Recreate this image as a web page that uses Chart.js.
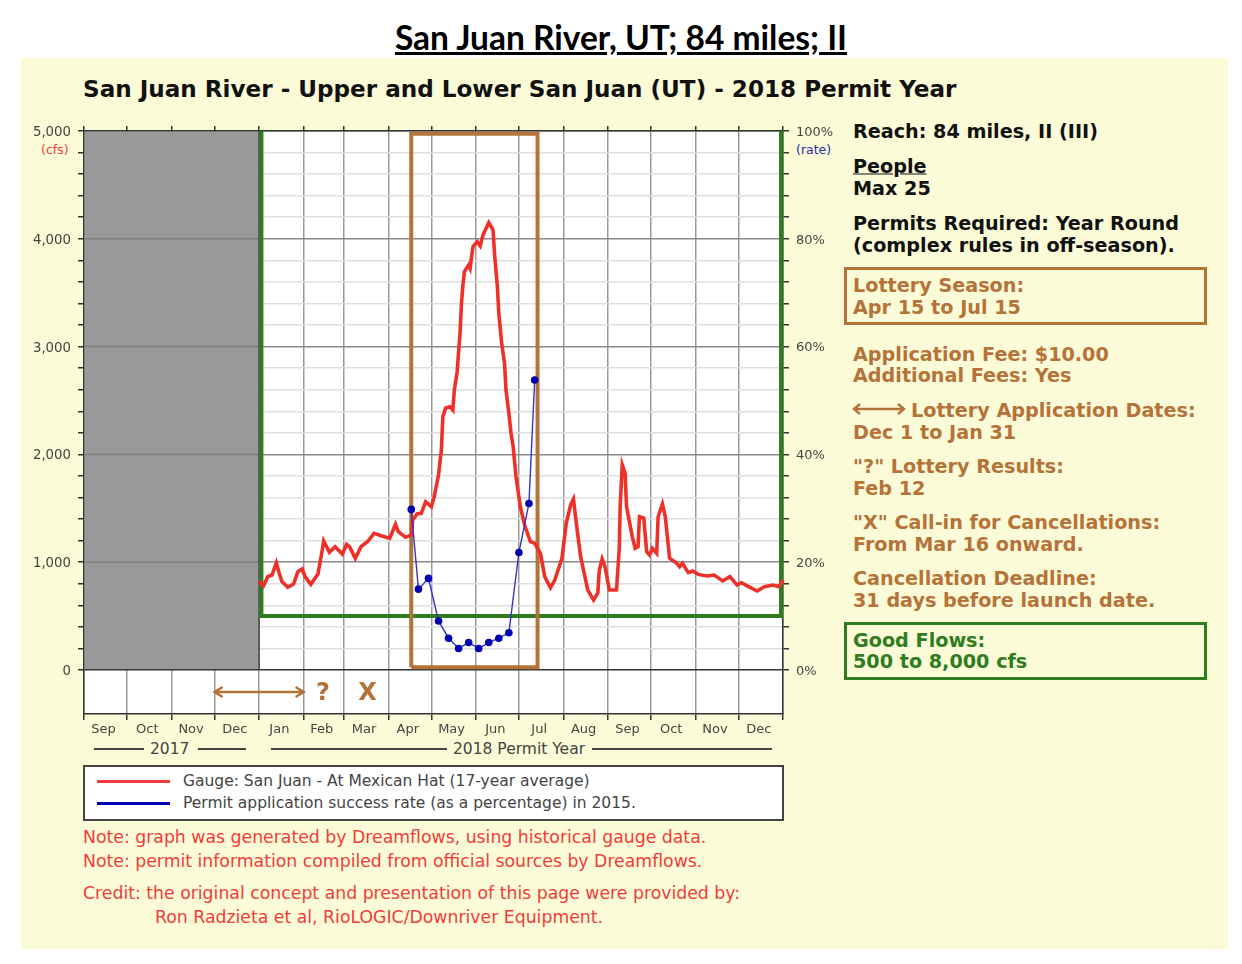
<!DOCTYPE html>
<html>
<head>
<meta charset="utf-8">
<title>San Juan River, UT; 84 miles; II</title>
<script src="https://cdn.jsdelivr.net/npm/chart.js@4"></script>
<style>
  html, body { margin: 0; background: #fff; }
  #page { position: relative; width: 1242px; height: 964px; overflow: hidden; font-family: 'DejaVu Sans', sans-serif; }
  #panel { position: absolute; left: 21px; top: 58px; width: 1207px; height: 891px; background: #fbfbd7; }
  #grafico { position: absolute; left: 0; top: 0; }
  .t { position: absolute; white-space: nowrap; transform: translateY(-50%); }
  .b { font-weight: bold; font-size: 19.2px; color: #111; left: 853px; }
  .m { color: #b5733a; }
  .g { color: #2f7d1f; }
  .n { font-size: 17.3px; color: #f23b3b; left: 83px; }
  .box { position: absolute; left: 844px; width: 357px; height: 52px; border: 3.5px solid; }
  .lin { position: absolute; height: 2px; background: #444; }
  .y { font-size: 15.5px; color: #444; }
</style>
</head>
<body>
<div id="page">
  <div id="panel"></div>
  <div class="t" style="left:0;width:1242px;text-align:center;top:37px;font:bold 33.5px Lato,sans-serif;color:#000;text-decoration:underline">San Juan River, UT; 84 miles; II</div>
  <div class="t" style="left:83px;top:89px;font-weight:bold;font-size:23.1px;color:#111">San Juan River - Upper and Lower San Juan (UT) - 2018 Permit Year</div>

  <div class="t b" style="top:131px">Reach: 84 miles, II (III)</div>
  <div class="t b" style="top:166px;text-decoration:underline">People</div>
  <div class="t b" style="top:188px">Max 25</div>
  <div class="t b" style="top:223px">Permits Required: Year Round</div>
  <div class="t b" style="top:245px">(complex rules in off-season).</div>

  <div class="box m" style="top:267px;border-color:#b5733a"></div>
  <div class="t b m" style="top:285px">Lottery Season:</div>
  <div class="t b m" style="top:307px">Apr 15 to Jul 15</div>
  <div class="t b m" style="top:354px">Application Fee: $10.00</div>
  <div class="t b m" style="top:375px">Additional Fees: Yes</div>
  <svg style="position:absolute;left:851px;top:402px" width="56" height="14" fill="none" stroke="#b5733a" stroke-width="2.4"><path d="M3 7H53M9 2L3 7L9 12M47 2L53 7L47 12"/></svg>
  <div class="t b m" style="top:410px;left:911px">Lottery Application Dates:</div>
  <div class="t b m" style="top:432px">Dec 1 to Jan 31</div>
  <div class="t b m" style="top:466px">"?" Lottery Results:</div>
  <div class="t b m" style="top:488px">Feb 12</div>
  <div class="t b m" style="top:522px">"X" Call-in for Cancellations:</div>
  <div class="t b m" style="top:544px">From Mar 16 onward.</div>
  <div class="t b m" style="top:578px">Cancellation Deadline:</div>
  <div class="t b m" style="top:600px">31 days before launch date.</div>

  <div class="box g" style="top:622px;border-color:#2f7d1f"></div>
  <div class="t b g" style="top:640px">Good Flows:</div>
  <div class="t b g" style="top:661px">500 to 8,000 cfs</div>

  <div class="t" style="left:41px;top:149px;font-size:12.5px;color:#f23b3b">(cfs)</div>
  <div class="t" style="left:796px;top:149px;font-size:12.5px;color:#2a2aa8">(rate)</div>

  <div class="lin" style="left:94px;top:748px;width:50px"></div>
  <div class="t y" style="left:150px;top:749px">2017</div>
  <div class="lin" style="left:198px;top:748px;width:48px"></div>
  <div class="lin" style="left:271px;top:748px;width:176px"></div>
  <div class="t y" style="left:453px;top:749px">2018 Permit Year</div>
  <div class="lin" style="left:592px;top:748px;width:180px"></div>

  <div style="position:absolute;left:83px;top:765px;width:697px;height:52px;background:#fff;border:2px solid #444"></div>
  <div class="lin" style="left:97px;top:780px;width:73px;background:#f23b3b;height:3px"></div>
  <div class="lin" style="left:97px;top:802px;width:73px;background:#0000b4;height:3px"></div>
  <div class="t y" style="left:183px;top:781px">Gauge: San Juan - At Mexican Hat (17-year average)</div>
  <div class="t y" style="left:183px;top:803px">Permit application success rate (as a percentage) in 2015.</div>

  <div class="t n" style="top:837px">Note: graph was generated by Dreamflows, using historical gauge data.</div>
  <div class="t n" style="top:861px">Note: permit information compiled from official sources by Dreamflows.</div>
  <div class="t n" style="top:893px">Credit: the original concept and presentation of this page were provided by:</div>
  <div class="t n" style="top:917px;left:155px">Ron Radzieta et al, RioLOGIC/Downriver Equipment.</div>

  <canvas id="grafico" width="1242" height="964"></canvas>
</div>

<script>
// x axis is days since Sep 1 2017
const monthNames = ['Sep', 'Oct', 'Nov', 'Dec', 'Jan', 'Feb', 'Mar', 'Apr', 'May', 'Jun', 'Jul', 'Aug', 'Sep', 'Oct', 'Nov', 'Dec']
const monthStarts = [0, 30, 61, 91, 122, 153, 181, 212, 242, 273, 303, 334, 365, 395, 426, 456, 487]

const cfsTicks = [0, 200, 400, 600, 800, 1000, 1200, 1400, 1600, 1800, 2000, 2200, 2400, 2600, 2800, 3000, 3200, 3400, 3600, 3800, 4000, 4200, 4400, 4600, 4800, 5000]
const rateTicks = [0, 4, 8, 12, 16, 20, 24, 28, 32, 36, 40, 44, 48, 52, 56, 60, 64, 68, 72, 76, 80, 84, 88, 92, 96, 100]

const gaugeDays = [122, 125, 128, 131, 134, 136, 138, 142, 146, 149, 152, 154, 158, 163, 166, 167, 171, 175, 180, 183, 185, 189, 193, 198, 202, 207, 213, 217, 219, 224, 228, 229, 232, 235, 238, 242, 244, 247, 249, 250, 252, 255, 257, 258, 260, 261, 262, 263, 264, 265, 268, 269, 271, 274, 276, 278, 282, 285, 286, 288, 289, 291, 293, 294, 296, 297.5, 299, 301, 304, 307, 311, 314, 318, 321, 325, 328, 333, 336, 339, 341, 343, 346, 349, 351, 355, 358, 359, 361, 363, 366, 371, 373, 373.5, 375, 377, 378, 382, 384, 386, 387, 390, 392, 394, 396, 399, 400, 403, 405, 408, 413, 415, 417, 421, 424, 428, 434, 439, 445, 450, 455, 458, 463, 469, 474, 480, 484, 487]
const gaugeCfs = [826, 779, 866, 881, 995, 897, 819, 767, 798, 912, 937, 866, 795, 890, 1113, 1197, 1092, 1144, 1076, 1166, 1144, 1036, 1144, 1197, 1268, 1246, 1222, 1351, 1283, 1231, 1252, 1391, 1447, 1453, 1561, 1515, 1608, 1809, 2041, 2350, 2430, 2442, 2412, 2597, 2767, 2953, 3126, 3404, 3571, 3695, 3757, 3726, 3927, 3973, 3933, 4035, 4150, 4082, 3865, 3556, 3309, 3030, 2845, 2597, 2381, 2198, 2071, 1793, 1515, 1345, 1190, 1175, 1082, 866, 763, 835, 1036, 1361, 1530, 1586, 1361, 1051, 866, 742, 649, 714, 928, 1030, 958, 742, 742, 1144, 1503, 1902, 1825, 1515, 1237, 1129, 1144, 1422, 1410, 1097, 1067, 1129, 1082, 1422, 1540, 1422, 1036, 989, 958, 989, 903, 918, 887, 872, 881, 826, 866, 788, 810, 773, 733, 773, 788, 773, 835]

const rateDays = [228, 233, 240, 247, 254, 261, 268, 275, 282, 289, 296, 303, 310, 314]
const ratePct = [29.8, 15, 17, 9.1, 5.9, 4, 5.1, 4, 5.1, 5.9, 6.9, 21.8, 30.9, 53.8]

const noDataEnd = 122
const yearEnd = 487
const goodFlow = 500
const goodDays = [123.6, 485.6]
const lotteryDays = [228, 316]
const lotteryCfs = [25, 4975]
const arrowDays = [91, 153]
const arrowCfs = -204
const resultsDay = 166.5
const callInDay = 197.5

const COR_MARROM = '#b5733a'

const junta = (xs, ys) => xs.map((x, i) => ({ x, y: ys[i] }))

const monthTicks = []
monthNames.forEach((_, i) => {
  monthTicks.push({ value: monthStarts[i] })
  monthTicks.push({ value: (monthStarts[i] + monthStarts[i + 1]) / 2 })
})
monthTicks.push({ value: monthStarts[monthNames.length] })

const pluginFundo = {
  id: 'fundo',
  beforeDraw(chart) {
    const { ctx, chartArea: a } = chart
    ctx.fillStyle = '#fff'
    ctx.fillRect(a.left, a.top, a.width, a.height)
  },
  beforeDatasetsDraw(chart) {
    const { ctx, chartArea: a, scales } = chart
    const x1 = scales.x.getPixelForValue(noDataEnd)
    const y0 = scales.y.getPixelForValue(0)
    ctx.save()
    ctx.fillStyle = '#999'
    ctx.fillRect(a.left + 1, a.top + 1, x1 - a.left - 1, y0 - a.top - 2)
    ctx.strokeStyle = '#7f7f7f'
    ctx.lineWidth = 1.5
    for (const v of [1000, 2000, 3000, 4000]) {
      const y = scales.y.getPixelForValue(v)
      ctx.beginPath()
      ctx.moveTo(a.left, y)
      ctx.lineTo(x1, y)
      ctx.stroke()
    }
    // dark edge where the gray block ends
    ctx.strokeStyle = '#444'
    ctx.beginPath()
    ctx.moveTo(x1, a.top)
    ctx.lineTo(x1, y0)
    ctx.stroke()
    ctx.restore()
  },
  afterDatasetsDraw(chart) {
    const { ctx, scales } = chart
    const y = scales.y.getPixelForValue(arrowCfs)
    const xa = scales.x.getPixelForValue(arrowDays[0])
    const xb = scales.x.getPixelForValue(arrowDays[1])
    ctx.save()
    ctx.strokeStyle = COR_MARROM
    ctx.lineWidth = 2.5
    ctx.beginPath()
    ctx.moveTo(xa + 8, y - 5)
    ctx.lineTo(xa, y)
    ctx.lineTo(xa + 8, y + 5)
    ctx.moveTo(xa, y)
    ctx.lineTo(xb, y)
    ctx.moveTo(xb - 8, y - 5)
    ctx.lineTo(xb, y)
    ctx.lineTo(xb - 8, y + 5)
    ctx.stroke()
    ctx.fillStyle = COR_MARROM
    ctx.font = 'bold 24px "DejaVu Sans"'
    ctx.textAlign = 'center'
    ctx.textBaseline = 'middle'
    ctx.fillText('?', scales.x.getPixelForValue(resultsDay), y + 2)
    ctx.fillText('X', scales.x.getPixelForValue(callInDay), y + 2)
    ctx.restore()
  }
}

new Chart(document.getElementById('grafico'), {
  type: 'line',
  plugins: [pluginFundo],
  data: {
    datasets: [
      {
        data: junta(rateDays, ratePct),
        yAxisID: 'y2',
        borderColor: '#3434c4',
        borderWidth: 1.4,
        pointRadius: 3.8,
        pointBackgroundColor: '#0000b0',
        pointBorderColor: '#0000b0',
        pointBorderWidth: 0
      },
      {
        data: junta(gaugeDays, gaugeCfs),
        borderColor: '#ee3128',
        borderWidth: 3.6,
        pointRadius: 0,
        clip: false
      },
      {
        data: junta([lotteryDays[0], lotteryDays[0], lotteryDays[1], lotteryDays[1], lotteryDays[0]], [lotteryCfs[0], lotteryCfs[1], lotteryCfs[1], lotteryCfs[0], lotteryCfs[0]]),
        borderColor: COR_MARROM,
        borderWidth: 4,
        pointRadius: 0,
        borderJoinStyle: 'miter'
      },
      {
        data: junta([goodDays[0], goodDays[0], goodDays[1], goodDays[1]], [5000, goodFlow, goodFlow, 5000]),
        borderColor: '#2f7d1f',
        borderWidth: 4,
        pointRadius: 0,
        borderJoinStyle: 'miter',
        clip: false
      }
    ]
  },
  options: {
    responsive: false,
    animation: false,
    devicePixelRatio: 1,
    layout: { padding: 0 },
    plugins: { legend: { display: false }, tooltip: { enabled: false } },
    elements: { line: { tension: 0 } },
    scales: {
      x: {
        type: 'linear',
        position: 'bottom',
        min: 0,
        max: yearEnd,
        afterBuildTicks(s) { s.ticks = monthTicks.map(t => ({ ...t })) },
        afterFit(s) { s.height = 250 },
        ticks: {
          autoSkip: false,
          maxRotation: 0,
          padding: 2,
          labelOffset: -2,
          color: '#444',
          font: { family: 'DejaVu Sans', size: 13 },
          callback: (v, i) => (i % 2 ? monthNames[(i - 1) / 2] : '')
        },
        border: { color: '#333', width: 1.5 },
        grid: {
          tickLength: 6,
          lineWidth: 1.5,
          color: c => (c.index % 2 ? 'transparent' : '#999'),
          tickColor: c => (c.index % 2 ? 'transparent' : '#333')
        }
      },
      xTop: {
        type: 'linear',
        axis: 'x',
        position: 'top',
        min: 0,
        max: yearEnd,
        afterBuildTicks(s) { s.ticks = monthStarts.map(value => ({ value })) },
        afterFit(s) { s.height = 131 },
        ticks: { autoSkip: false, display: false },
        border: { color: '#333', width: 1.5 },
        grid: { drawOnChartArea: false, tickLength: 5, tickColor: '#333', lineWidth: 1.5 }
      },
      y: {
        type: 'linear',
        position: 'left',
        min: -408,
        max: 5000,
        afterBuildTicks(s) { s.ticks = cfsTicks.map(value => ({ value })) },
        afterFit(s) { s.width = 84 },
        ticks: {
          autoSkip: false,
          padding: 7,
          labelOffset: 1.5,
          color: '#444',
          font: { family: 'DejaVu Sans', size: 13.3 },
          callback: v => (v % 1000 === 0 ? v.toLocaleString('en-US') : '')
        },
        border: { color: '#333', width: 1.5 },
        grid: {
          tickLength: 6,
          lineWidth: 1.5,
          color: c => (c.tick.value === 0 ? '#333' : c.tick.value % 1000 === 0 ? '#8a8a8a' : '#dedede'),
          tickColor: '#333'
        }
      },
      y2: {
        type: 'linear',
        position: 'right',
        min: -8.16,
        max: 100,
        afterBuildTicks(s) { s.ticks = rateTicks.map(value => ({ value })) },
        afterFit(s) { s.width = 459 },
        ticks: {
          autoSkip: false,
          padding: 7,
          labelOffset: 1.5,
          color: '#444',
          font: { family: 'DejaVu Sans', size: 13 },
          callback: v => (v % 20 === 0 ? v + '%' : '')
        },
        border: { color: '#333', width: 1.5 },
        grid: { drawOnChartArea: false, tickLength: 6, tickColor: '#333', lineWidth: 1.5 }
      }
    }
  }
})
</script>
</body>
</html>
